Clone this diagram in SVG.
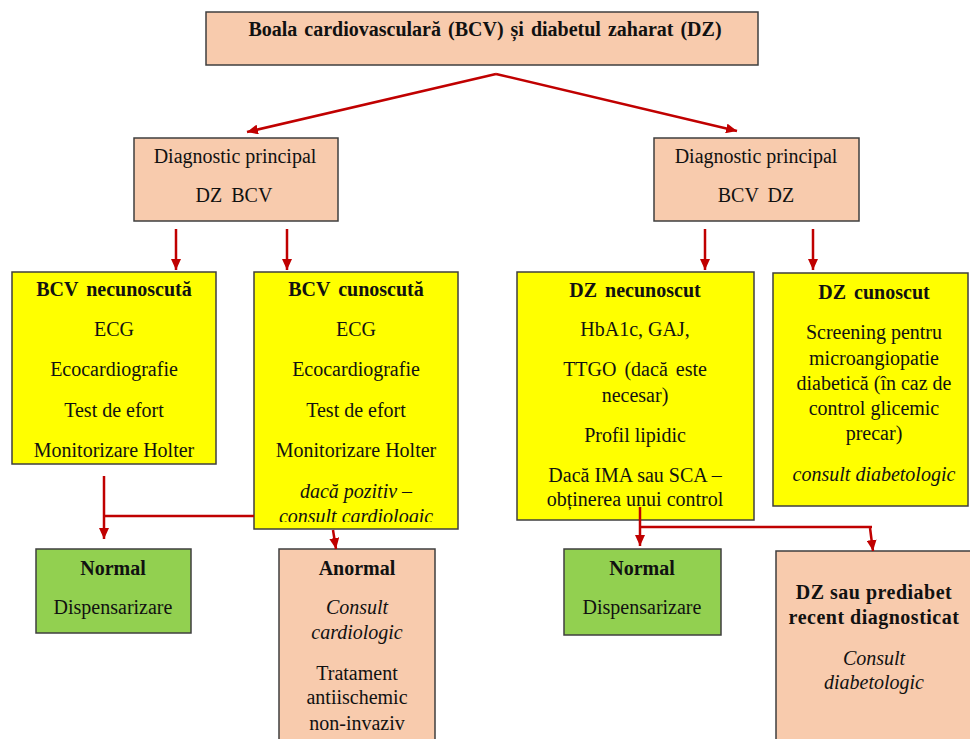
<svg xmlns="http://www.w3.org/2000/svg" width="970" height="739" viewBox="0 0 970 739">
<style>
.box{stroke:#3f3f3f;stroke-width:1.5}
.peach{fill:#f8cbad}
.yellow{fill:#ffff00}
.green{fill:#92d050}
text{font-family:"Liberation Serif","Times New Roman",serif;font-size:20px;fill:#111;text-anchor:middle}
.b{font-weight:bold}
.i{font-style:italic}
.con{stroke:#c00000;stroke-width:2.5;fill:none}
</style>
<defs>
<marker id="ah" markerUnits="userSpaceOnUse" markerWidth="12" markerHeight="10" refX="11" refY="5" orient="auto">
<path d="M0,0 L11,5 L0,10 z" fill="#c00000"/>
</marker>
<clipPath id="clipBCVc"><rect x="254" y="272" width="204" height="250"/></clipPath>
</defs>
<rect width="970" height="739" fill="#ffffff"/>

<g id="title">
<rect class="box peach" x="206" y="12" width="552" height="53"/>
<text class="b" x="485" y="36" word-spacing="2">Boala cardiovasculară (BCV) și diabetul zaharat (DZ)</text>
</g>

<g id="diag-left">
<rect class="box peach" x="134" y="138" width="204" height="83"/>
<text x="235" y="163">Diagnostic principal</text>
<text x="234" y="202" word-spacing="4">DZ BCV</text>
</g>

<g id="diag-right">
<rect class="box peach" x="654" y="138" width="205" height="83"/>
<text x="756" y="163">Diagnostic principal</text>
<text x="756" y="202" word-spacing="4">BCV DZ</text>
</g>

<g id="bcv-necunoscuta">
<rect class="box yellow" x="12" y="272" width="204" height="192"/>
<text class="b" x="114" y="296" word-spacing="3">BCV necunoscută</text>
<text x="114" y="336">ECG</text>
<text x="114" y="376">Ecocardiografie</text>
<text x="114" y="417">Test de efort</text>
<text x="114" y="457">Monitorizare Holter</text>
</g>

<g id="bcv-cunoscuta">
<rect class="box yellow" x="254" y="272" width="204" height="257"/>
<text class="b" x="356" y="296" word-spacing="3">BCV cunoscută</text>
<text x="356" y="336">ECG</text>
<text x="356" y="376">Ecocardiografie</text>
<text x="356" y="417">Test de efort</text>
<text x="356" y="457">Monitorizare Holter</text>
<text class="i" x="356" y="498">dacă pozitiv –</text>
<text class="i" x="356" y="523" clip-path="url(#clipBCVc)">consult cardiologic</text>
</g>

<g id="dz-necunoscut">
<rect class="box yellow" x="517" y="272" width="237" height="248"/>
<text class="b" x="635" y="297" word-spacing="3">DZ necunoscut</text>
<text x="635" y="336">HbA1c, GAJ,</text>
<text x="635" y="376" word-spacing="3">TTGO (dacă este</text>
<text x="635" y="402">necesar)</text>
<text x="635" y="442">Profil lipidic</text>
<text x="635" y="482">Dacă IMA sau SCA –</text>
<text x="635" y="506">obținerea unui control</text>
</g>

<g id="dz-cunoscut">
<rect class="box yellow" x="773" y="273" width="195" height="233"/>
<text class="b" x="874" y="299" word-spacing="3">DZ cunoscut</text>
<text x="874" y="339">Screening pentru</text>
<text x="874" y="365">microangiopatie</text>
<text x="874" y="390">diabetică (în caz de</text>
<text x="874" y="415">control glicemic</text>
<text x="874" y="440">precar)</text>
<text class="i" x="874" y="481">consult diabetologic</text>
</g>

<g id="normal-left">
<rect class="box green" x="36" y="549" width="155" height="84"/>
<text class="b" x="113" y="575">Normal</text>
<text x="113" y="614">Dispensarizare</text>
</g>

<g id="anormal">
<rect class="box peach" x="279" y="549" width="156" height="200"/>
<text class="b" x="357" y="575">Anormal</text>
<text class="i" x="357" y="614">Consult</text>
<text class="i" x="357" y="639">cardiologic</text>
<text x="357" y="680">Tratament</text>
<text x="357" y="704">antiischemic</text>
<text x="357" y="730">non-invaziv</text>
</g>

<g id="normal-right">
<rect class="box green" x="564" y="549" width="157" height="86"/>
<text class="b" x="642" y="575">Normal</text>
<text x="642" y="614">Dispensarizare</text>
</g>

<g id="dz-prediabet">
<rect class="box peach" x="776" y="551" width="210" height="200"/>
<text class="b" x="874" y="599" letter-spacing="0.5">DZ sau prediabet</text>
<text class="b" x="874" y="624" letter-spacing="0.5">recent diagnosticat</text>
<text class="i" x="874" y="665">Consult</text>
<text class="i" x="874" y="689">diabetologic</text>
</g>

<g id="connectors">
<path class="con" d="M496,74 L247,132" marker-end="url(#ah)"/>
<path class="con" d="M496,74 L737,131" marker-end="url(#ah)"/>
<path class="con" d="M176,229 L176,270" marker-end="url(#ah)"/>
<path class="con" d="M287,229 L287,270" marker-end="url(#ah)"/>
<path class="con" d="M705,229 L705,270" marker-end="url(#ah)"/>
<path class="con" d="M813,229 L813,270" marker-end="url(#ah)"/>
<path class="con" d="M104,476 L104,539" marker-end="url(#ah)"/>
<path class="con" d="M104,516 L254,516" stroke-width="3"/>
<path class="con" d="M333,530 L336,549" marker-end="url(#ah)"/>
<path class="con" d="M640,507 L640,546" marker-end="url(#ah)"/>
<path class="con" d="M640,527 L872,527" stroke-width="3"/>
<path class="con" d="M870,528 L873,551" marker-end="url(#ah)"/>
</g>
</svg>
